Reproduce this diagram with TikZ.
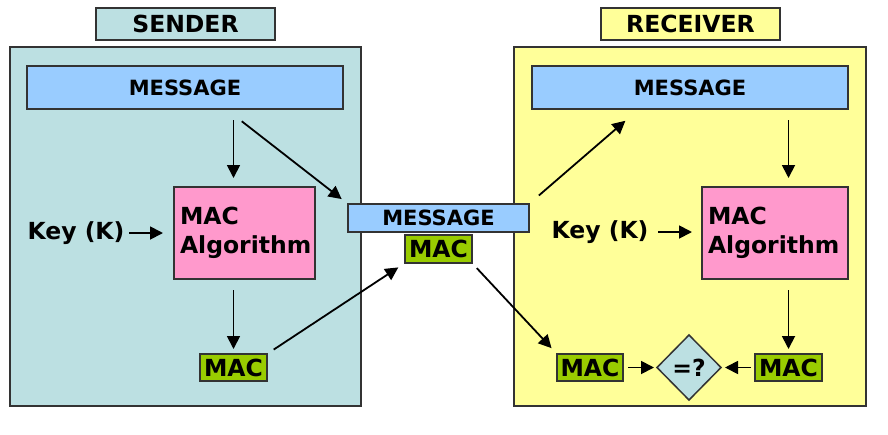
\documentclass[tikz,border=0pt]{standalone}
\usepackage{fontspec}
\setmainfont{DejaVu Sans}
\usetikzlibrary{shapes.geometric,arrows.meta}

\definecolor{sendfill}{HTML}{BCE0E2}
\definecolor{recvfill}{HTML}{FFFF99}
\definecolor{msgfill}{HTML}{99CCFF}
\definecolor{algfill}{HTML}{FF99CC}
\definecolor{macfill}{HTML}{99CC00}
\definecolor{edge}{HTML}{333333}

\begin{document}
\begin{tikzpicture}[x=1pt, y=-1pt,
    every node/.style={inner sep=0pt, outer sep=0pt},
    box/.style={draw=edge, line width=1.5pt},
    big/.style={font=\fontsize{23.5}{29}\selectfont\bfseries},
    msgbox/.style={box, fill=msgfill, font=\fontsize{21}{25}\selectfont\bfseries},
    algbox/.style={box, big, fill=algfill, align=left, inner xsep=6pt},
    macbox/.style={box, big, fill=macfill, minimum width=67pt, minimum height=27pt},
    arr/.style={line width=1.8pt, -{Triangle[length=13pt,width=13pt]}}]
    \useasboundingbox (0,0) rectangle (888,434);
    % the two sides
    \node (frame-S) [box, fill=sendfill, minimum width=351pt, minimum height=359pt] at (185.5,226.5) {};
    \node (frame-R) [box, fill=recvfill, minimum width=352pt, minimum height=359pt] at (690,226.5) {};
    \node (title-S) [box, big, fill=sendfill, minimum width=179pt, minimum height=32pt] at (185.5,24) {SENDER};
    \node (title-R) [box, big, fill=recvfill, minimum width=179pt, minimum height=32pt] at (690.5,24) {RECEIVER};
    % sender
    \node (msg-S) [msgbox, minimum width=316pt, minimum height=43pt] at (185,87.5) {MESSAGE};
    \node (alg-S) [algbox, text width=129pt, minimum height=92pt] at (244.5,233) {MAC\\Algorithm};
    \node (key-S) [big] at (76,233) {Key (K)};
    \node (mac-S) [macbox] at (233.5,367.5) {MAC};
    % in transit
    \node (msg-M) [msgbox, minimum width=181pt, minimum height=28pt] at (438.5,218) {MESSAGE};
    \node (mac-M) [macbox, minimum height=28pt] at (438.5,249) {MAC};
    % receiver
    \node (msg-R) [msgbox, minimum width=316pt, minimum height=43pt] at (690,87.5) {MESSAGE};
    \node (alg-R) [algbox, text width=134pt, minimum height=92pt] at (775,233) {MAC\\Algorithm};
    \node (key-R) [big] at (600,232) {Key (K)};
    \node (mac-Ra) [macbox, minimum width=66pt] at (590,367.5) {MAC};
    \node (cmp) [diamond, box, big, fill=sendfill, minimum width=64pt, minimum height=65pt] at (689,367.5) {=?};
    \node (mac-Rb) [macbox] at (788.5,367.5) {MAC};
    %\draw [help lines] (0,0) grid[step=50] (888,434);
    \draw [arr, shorten <=11pt, shorten >=9pt] (mac-S |- msg-S.south) -- (mac-S |- alg-S.north);
    \draw [arr, shorten <=20pt, shorten >=8pt] ([xshift=41pt]msg-S.south) -- (msg-M.north west);
    \draw [arr, shorten <=5pt, shorten >=11pt] (key-S.east) -- (alg-S.west |- key-S);
    \draw [arr, shorten <=11pt, shorten >=5pt] (mac-S |- alg-S.south) -- (mac-S.north);
    \draw [arr, shorten <=8pt, shorten >=8pt] (mac-S.north east) -- (mac-M.south west);
    \draw [arr, shorten <=13pt, shorten >=18pt] (msg-M.north east) -- ([xshift=-51pt]msg-R.south);
    \draw [arr, shorten <=7pt, shorten >=8pt] (mac-M.south east) -- (mac-Ra.north west);
    \draw [arr, shorten <=11pt, shorten >=9pt] (mac-Rb |- msg-R.south) -- (mac-Rb |- alg-R.north);
    \draw [arr, shorten <=10pt, shorten >=10pt] (key-R.east) -- (alg-R.west |- key-R);
    \draw [arr, shorten <=11pt, shorten >=5pt] (mac-Rb |- alg-R.south) -- (mac-Rb.north);
    \draw [arr, shorten <=5pt, shorten >=3pt] (mac-Ra.east) -- (cmp.west);
    \draw [arr, shorten <=4pt, shorten >=4pt] (mac-Rb.west) -- (cmp.east);
\end{tikzpicture}
\end{document}
